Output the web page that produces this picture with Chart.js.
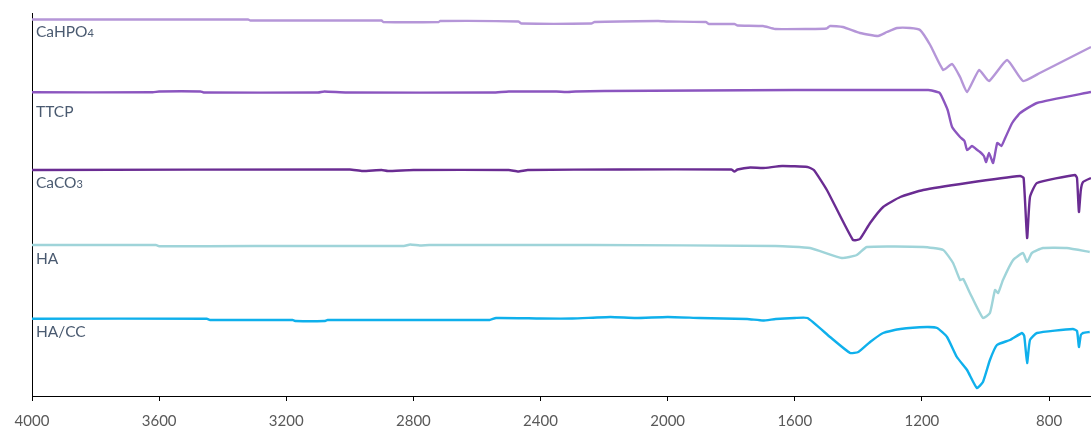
<!DOCTYPE html>
<html>
<head>
<meta charset="utf-8">
<script src="https://cdn.jsdelivr.net/npm/chart.js@4.4.1/dist/chart.umd.min.js"></script>
<style>
  html, body { margin: 0; padding: 0; background: #fff; }
  #wrap { width: 1091px; height: 428px; }
</style>
</head>
<body>
<div id="wrap"><canvas id="ftirChart"></canvas></div>
<script>
// wavenumber (cm-1) and offset signal for each trace
var xTicks = [4000, 3600, 3200, 2800, 2400, 2000, 1600, 1200, 800];
var seriesNames = ['CaHPO4', 'TTCP', 'CaCO3', 'HA', 'HA/CC'];

var cahpo4Wn  = [4000, 3320, 3313, 2900, 2895, 2720, 2716, 2470, 2460, 2240, 2230, 2030, 2000, 1880, 1870, 1790, 1780, 1700, 1662, 1560, 1500, 1489, 1449, 1395, 1338, 1310, 1278, 1237, 1206, 1174, 1133, 1105, 1080, 1058, 1020, 989, 932, 882, 829, 668];
var cahpo4Val = [376.5, 376.5, 375.5, 375.5, 374, 374, 375, 374.5, 372.5, 372.5, 374, 375, 374.5, 374, 372, 372, 370.5, 370, 367, 367, 367.5, 370, 369, 363, 360, 364, 368, 368, 366, 351, 326, 332, 319, 304, 326, 315, 336, 315, 323, 349];

var ttcpWn  = [4000, 3620, 3600, 3470, 3460, 3100, 3080, 3010, 2550, 2500, 2350, 2320, 2290, 2200, 1600, 1180, 1169, 1144, 1119, 1105, 1080, 1066, 1058, 1042, 1030, 1017, 1005, 998, 989, 976, 963, 950, 938, 916, 891, 838, 668];
var ttcpVal = [303.7, 303.7, 304.5, 304.5, 303.5, 303.5, 304.5, 303.5, 303.5, 304.5, 304.5, 304, 304.5, 305, 306, 306, 305.5, 303, 286, 269, 259, 255, 246, 250, 247, 244, 240, 234, 243, 233, 253, 250, 258, 273, 283, 293, 304];

var caco3Wn  = [4000, 3000, 2960, 2900, 2880, 2800, 2500, 2470, 2440, 2150, 1800, 1790, 1780, 1740, 1700, 1640, 1560, 1540, 1499, 1417, 1395, 1363, 1322, 1268, 1196, 1058, 891, 880, 869, 860, 838, 718, 712, 706, 700, 693, 668];
var caco3Val = [226, 226.5, 225, 226, 225, 226, 226, 224.5, 226, 226.5, 226.5, 224.5, 226.5, 228.5, 228, 230, 229, 226, 206, 156, 157, 173, 189, 199, 206, 213, 220, 218, 158, 199, 213, 221, 218, 184, 206, 214, 218];

var haWn  = [4000, 3610, 3600, 3300, 2830, 2810, 2780, 2750, 2240, 1660, 1552, 1452, 1405, 1373, 1196, 1133, 1102, 1080, 1070, 1049, 1008, 986, 970, 960, 945, 913, 882, 869, 854, 819, 744, 672];
var haVal = [151, 151, 149.7, 150, 150, 151.5, 150.5, 151, 151, 150, 148, 138, 141, 149, 149, 146, 133, 116, 117, 103, 78, 83, 106, 103, 116, 136, 143, 134, 143, 148, 148, 144];

var haccWn  = [4000, 3450, 3440, 3180, 3170, 3080, 3070, 2560, 2540, 2400, 2300, 2180, 2100, 2000, 1900, 1750, 1700, 1660, 1600, 1560, 1489, 1426, 1400, 1363, 1322, 1268, 1184, 1152, 1121, 1090, 1058, 1027, 1008, 986, 964, 923, 885, 878, 869, 860, 838, 725, 712, 706, 700, 693, 672];
var haccVal = [77.3, 77.3, 76, 76, 75, 75, 76, 76, 78, 77.5, 77.5, 79, 78, 79, 78, 77, 75.5, 77, 78, 78, 59, 43, 44, 54, 63, 67, 69, 68, 59, 39, 26, 8, 14, 36, 51, 56, 63, 60, 33, 56, 63, 67, 65, 49, 61, 63, 64];

var seriesColors = ['#b596d8', '#8b55bf', '#6a2c92', '#9fd4d9', '#0fb0ec'];
var labelGaps = [17, 25, 18, 19, 18];

function toPoints(wn, val) {
    var pts = [];
    for (var i = 0; i < wn.length; i++) {
        pts.push({ x: wn[i], y: val[i] });
    }
    return pts;
}

var allData = [
    toPoints(cahpo4Wn, cahpo4Val),
    toPoints(ttcpWn, ttcpVal),
    toPoints(caco3Wn, caco3Val),
    toPoints(haWn, haVal),
    toPoints(haccWn, haccVal)
];

var datasets = [];
for (var i = 0; i < seriesNames.length; i++) {
    datasets.push({
        label: seriesNames[i],
        data: allData[i],
        borderColor: seriesColors[i],
        borderWidth: 2.4,
        pointRadius: 0,
        fill: false,
        tension: 0.15
    });
}

// series names under each trace, digits drawn as small subscripts
var traceLabels = {
    id: 'traceLabels',
    afterDatasetsDraw: function (chart) {
        var ctx = chart.ctx;
        var xs = chart.scales.x, ys = chart.scales.y;
        ctx.save();
        ctx.fillStyle = '#4a5a70';
        ctx.textBaseline = 'alphabetic';
        chart.data.datasets.forEach(function (ds, i) {
            var x = xs.getPixelForValue(4000) + 4;
            var y = ys.getPixelForValue(ds.data[0].y) + labelGaps[i];
            var parts = ds.label.match(/[^0-9]+|[0-9]+/g);
            parts.forEach(function (p) {
                var isSub = /^[0-9]+$/.test(p);
                ctx.font = (isSub ? '11px' : '15.5px') + ' Lato, "Open Sans", sans-serif';
                ctx.fillText(p, x, y);
                x += ctx.measureText(p).width;
            });
        });
        ctx.restore();
    }
};

var ctx = document.getElementById('ftirChart').getContext('2d');
var ftirChart = new Chart(ctx, {
    type: 'line',
    data: { datasets: datasets },
    options: {
        responsive: true,
        maintainAspectRatio: false,
        animation: false,
        layout: { padding: { left: 24, top: 13, right: 0, bottom: -13 } },
        plugins: {
            legend: { display: false },
            tooltip: { enabled: false }
        },
        scales: {
            x: {
                type: 'linear',
                reverse: true,
                min: 668,
                max: 4000,
                afterBuildTicks: function (scale) {
                    scale.ticks = xTicks.map(function (v) { return { value: v }; });
                },
                grid: { display: true, drawOnChartArea: false, drawTicks: true, tickLength: 5, color: '#000' },
                border: { display: true, color: '#000', width: 1 },
                ticks: {
                    color: '#595959',
                    font: { family: 'Lato, "Open Sans", sans-serif', size: 15 },
                    padding: 11,
                    maxRotation: 0,
                    autoSkip: false,
                    callback: function (v) { return String(v); }
                }
            },
            y: {
                type: 'linear',
                min: 0,
                max: 383,
                grid: { display: false },
                border: { display: true, color: '#000', width: 1 },
                ticks: { display: false }
            }
        }
    },
    plugins: [traceLabels]
});
</script>
</body>
</html>
